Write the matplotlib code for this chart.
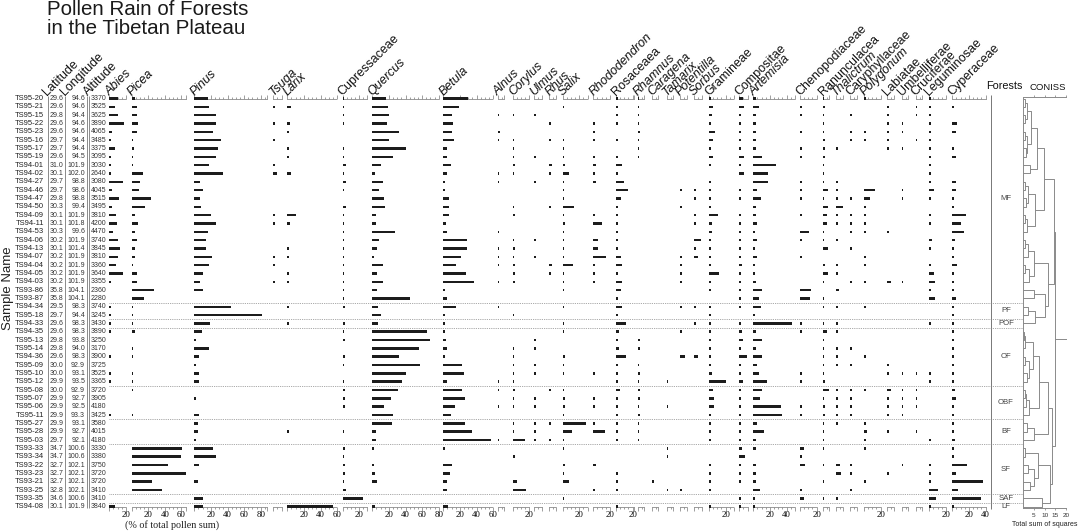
import matplotlib
matplotlib.use("Agg")
import matplotlib.pyplot as plt
from matplotlib.ticker import FixedLocator, FixedFormatter, MultipleLocator

W, H = 1079, 531
SANS = ['Liberation Sans', 'DejaVu Sans']
SERIF = ['Liberation Serif', 'DejaVu Serif']
plt.rcParams['font.family'] = SANS

# ---- samples ----
samples = ["TS95-20", "TS95-21", "TS95-15", "TS95-22", "TS95-23", "TS95-16", "TS95-17", "TS95-19", "TS94-01", "TS94-02",
           "TS94-27", "TS94-46", "TS94-47", "TS94-50", "TS94-09", "TS94-11", "TS94-53", "TS94-06", "TS94-13", "TS94-07",
           "TS94-04", "TS94-05", "TS94-03", "TS93-86", "TS93-87", "TS94-34", "TS95-18", "TS94-33", "TS94-35", "TS95-13",
           "TS95-14", "TS94-36", "TS95-09", "TS95-10", "TS95-12", "TS95-08", "TS95-07", "TS95-06", "TS95-11", "TS95-27",
           "TS95-28", "TS95-03", "TS93-33", "TS93-34", "TS93-22", "TS93-23", "TS93-21", "TS93-25", "TS93-35", "TS94-08"]
latitude = [29.6, 29.6, 29.8, 29.6, 29.6, 29.7, 29.7, 29.6, 31.0, 30.1,
            29.7, 29.7, 29.8, 30.3, 30.1, 30.1, 30.3, 30.2, 30.1, 30.2,
            30.2, 30.2, 30.2, 35.8, 35.8, 29.5, 29.7, 29.6, 29.6, 29.8,
            29.8, 29.6, 30.0, 30.0, 29.9, 30.0, 29.9, 29.9, 29.9, 29.9,
            29.9, 29.7, 34.7, 34.7, 32.7, 32.7, 32.7, 32.8, 34.6, 30.1]
longitude = [94.6, 94.6, 94.4, 94.6, 94.6, 94.4, 94.4, 94.5, 101.9, 102.0,
             98.8, 98.6, 98.8, 99.4, 101.9, 101.8, 99.6, 101.9, 101.4, 101.9,
             101.9, 101.9, 101.9, 104.1, 104.1, 98.3, 94.4, 98.3, 98.3, 93.8,
             94.0, 98.3, 92.9, 93.1, 93.5, 92.9, 92.7, 92.5, 93.3, 93.1,
             92.7, 92.1, 100.6, 100.6, 102.1, 102.1, 102.1, 102.1, 100.6, 101.9]
altitude = [3370, 3525, 3625, 3890, 4065, 3485, 3375, 3095, 3030, 2640,
            3080, 4045, 3515, 3495, 3810, 4200, 4470, 3740, 3845, 3810,
            3360, 3640, 3355, 2360, 2280, 3740, 3245, 3430, 3890, 3250,
            3170, 3900, 3725, 3525, 3365, 3720, 3905, 4180, 3425, 3580,
            4015, 4180, 3330, 3380, 3750, 3720, 3720, 3410, 3410, 3840]
forest_types = ['MF', 'PF', 'POF', 'OF', 'OBF', 'BF', 'SF', 'SAF', 'LF']
forest_counts = [25, 2, 1, 7, 4, 3, 6, 1, 1]

# ---- pollen percentages (one value per sample) ----
abies = [10, 7, 11, 18, 3, 2, 7, 2, 2, 2, 16, 3, 12, 3, 8, 9, 4, 10, 13, 11,
         8, 16, 2, 0, 0, 2, 2, 2, 2, 0, 0, 2, 0, 2, 2, 0, 0, 0, 2, 0,
         0, 0, 0, 0, 0, 0, 0, 0, 0, 7]
picea = [4, 6, 6, 7, 6, 2, 3, 2, 2, 14, 10, 9, 23, 16, 4, 7, 4, 6, 4, 4,
         2, 6, 6, 27, 15, 2, 2, 2, 4, 0, 2, 2, 0, 2, 2, 2, 0, 0, 2, 0,
         0, 0, 61, 59, 44, 65, 24, 36, 0, 0]
pinus = [17, 18, 26, 26, 23, 32, 29, 26, 18, 34, 7, 10, 7, 8, 20, 26, 17, 14, 14, 21,
         18, 11, 7, 10, 0, 44, 82, 19, 9, 2, 18, 6, 2, 6, 6, 0, 2, 0, 6, 5,
         4, 2, 22, 26, 6, 0, 4, 0, 10, 11]
tsuga = [0, 2, 0, 2, 0, 2, 0, 0, 2, 4, 0, 0, 0, 0, 2, 2, 0, 0, 0, 2,
         2, 0, 2] + [0] * 27
larix = [0, 4, 0, 3, 2, 0, 2, 2, 0, 4, 0, 0, 0, 0, 10, 3, 0, 0, 2, 2,
         0, 2, 2, 0, 0, 2, 0, 2, 0, 0, 0, 0, 0, 0, 0, 0, 0, 0, 0, 0,
         2, 0, 0, 0, 0, 0, 0, 0, 0, 55]
cupressaceae = [2, 2, 2, 2, 0, 0, 2, 2, 4, 2, 4, 2, 0, 4, 2, 2, 2, 2, 2, 2,
                2, 2, 2, 2, 2, 3, 0, 3, 2, 3, 0, 3, 2, 0, 2, 3, 3, 3, 0, 0,
                2, 0, 3, 2, 3, 3, 2, 4, 25, 0]
quercus = [16, 19, 20, 18, 32, 20, 40, 25, 10, 3, 13, 8, 14, 15, 4, 4, 27, 8, 6, 2,
           13, 6, 13, 6, 45, 7, 11, 7, 66, 69, 56, 32, 57, 41, 36, 31, 23, 14, 25, 24,
           4, 4, 2, 0, 2, 3, 6, 0, 0, 3]
betula = [30, 19, 11, 12, 10, 13, 5, 5, 9, 5, 2, 2, 7, 7, 7, 3, 4, 28, 28, 21,
          15, 27, 37, 2, 4, 15, 2, 2, 2, 3, 4, 2, 23, 25, 4, 23, 26, 14, 9, 26,
          34, 58, 2, 0, 10, 8, 4, 5, 0, 6]
alnus = [0, 0, 2, 0, 3, 2, 0, 0, 0, 2, 2, 0, 0, 0, 0, 0, 2, 0, 2, 2,
         2, 0, 2, 0, 0, 2, 0, 0, 0, 0, 0, 0, 0, 0, 2, 2, 0, 2, 0, 0,
         0, 2, 0, 0, 0, 0, 0, 0, 0, 0]
corylus = [0, 0, 2, 0, 0, 2, 2, 2, 3, 2, 0, 0, 0, 2, 3, 0, 0, 2, 3, 2,
           3, 3, 3, 0, 0, 0, 2, 0, 0, 0, 2, 2, 2, 2, 2, 3, 2, 2, 0, 2,
           2, 15, 0, 3, 0, 0, 5, 16, 0, 0]
ulmus = [0, 0, 2, 0, 0, 0, 0, 2, 0, 0, 2, 0, 0, 0, 0, 0, 0, 2, 0, 2,
         0, 0, 0, 0, 0, 0, 0, 0, 0, 2, 2, 0, 2, 2, 0, 0, 2, 2, 0, 2,
         2, 2, 0, 0, 0, 0, 0, 0, 0, 0]
rhus = [0, 0, 0, 2, 0, 2, 0, 0, 3, 2, 0, 0, 0, 2, 0, 0, 0, 0, 0, 0,
        3, 2, 0, 0, 0, 0, 0, 0, 0, 0, 0, 0, 0, 0, 0, 2, 0, 0, 0, 2,
        0, 2, 0, 0, 0, 0, 0, 0, 0, 0]
salix = [0, 2, 0, 0, 0, 2, 2, 2, 3, 7, 2, 2, 2, 14, 2, 3, 2, 2, 2, 2,
         12, 2, 2, 2, 0, 2, 0, 2, 2, 0, 0, 3, 2, 2, 0, 2, 3, 3, 2, 28,
         11, 2, 2, 0, 3, 2, 7, 0, 2, 0]
rhododendron = [0, 0, 0, 2, 2, 2, 0, 2, 3, 2, 3, 0, 0, 0, 2, 10, 0, 6, 6, 15,
                2, 2, 2, 0, 0, 0, 0, 0, 0, 0, 0, 0, 0, 2, 0, 0, 2, 2, 0, 2,
                14, 0, 0, 0, 3, 0, 0, 2, 0, 0]
rosaceaea = [3, 2, 3, 2, 0, 2, 0, 2, 7, 2, 10, 15, 6, 2, 2, 2, 2, 3, 3, 6,
             7, 3, 7, 6, 2, 7, 2, 12, 4, 2, 4, 12, 2, 2, 2, 5, 3, 3, 2, 2,
             2, 2, 0, 0, 0, 2, 3, 2, 0, 2]
rhamnus = [2, 2, 2, 2, 3, 2, 2, 2, 0, 0, 0, 0, 0, 0, 0, 0, 0, 0, 0, 0,
           0, 0, 0, 0, 0, 0, 0, 0, 0, 3, 3, 0, 2, 3, 2, 3, 3, 2, 3, 2,
           2, 2, 0, 0, 0, 0, 0, 0, 0, 0]
caragena = [0] * 46 + [2, 0, 0, 0]
tamarix = [0] * 34 + [2, 0, 0, 2, 0, 0, 0, 0, 2, 2, 0, 0, 0, 2, 0, 0]
potentilla = [0, 0, 0, 0, 0, 0, 0, 0, 0, 0, 0, 2, 0, 2, 0, 0, 0, 0, 0, 2,
              3, 2, 2, 0, 0, 2, 0, 0, 3, 0, 0, 6, 0, 0, 0, 0, 0, 0, 0, 0,
              0, 0, 0, 0, 0, 0, 0, 2, 0, 0]
sorbus = [0, 0, 0, 0, 0, 0, 0, 0, 0, 0, 0, 3, 2, 0, 2, 2, 0, 9, 2, 5,
          0, 0, 0, 0, 0, 2, 0, 3, 0, 0, 0, 5] + [0] * 18
gramineae = [3, 5, 4, 2, 7, 5, 2, 5, 2, 0, 3, 3, 2, 2, 11, 4, 4, 2, 2, 2,
             3, 12, 2, 2, 0, 2, 2, 2, 2, 3, 3, 2, 2, 4, 21, 5, 6, 6, 3, 2,
             3, 3, 0, 0, 2, 2, 2, 2, 0, 2]
compositae = [5, 6, 2, 2, 2, 2, 2, 6, 2, 6, 0, 2, 2, 0, 2, 2, 2, 2, 2, 2,
              3, 2, 2, 2, 2, 2, 0, 2, 3, 5, 2, 9, 2, 2, 5, 2, 2, 2, 2, 2,
              2, 2, 3, 7, 2, 2, 2, 0, 2, 2]
artemisia = [3, 7, 3, 3, 3, 3, 3, 10, 27, 18, 18, 5, 9, 3, 3, 5, 2, 4, 2, 5,
             2, 2, 3, 11, 7, 9, 2, 47, 3, 10, 3, 11, 5, 7, 17, 11, 8, 33, 34, 4,
             13, 3, 3, 0, 3, 3, 3, 8, 2, 2]
chenopodiaceae = [0, 2, 2, 0, 2, 0, 2, 2, 0, 0, 2, 2, 2, 0, 2, 0, 11, 2, 0, 2,
                  0, 0, 0, 13, 12, 0, 0, 2, 2, 0, 0, 0, 0, 2, 2, 0, 0, 2, 2, 0,
                  0, 0, 5, 2, 6, 0, 0, 2, 5, 0]
ranunculacea = [2, 3, 2, 2, 2, 3, 3, 3, 2, 2, 2, 6, 2, 6, 5, 5, 2, 2, 6, 0,
                3, 6, 2, 0, 2, 2, 0, 2, 5, 2, 2, 2, 2, 2, 3, 8, 2, 3, 3, 2,
                2, 2, 2, 0, 2, 0, 2, 0, 2, 0]
thalictrum = [0, 0, 0, 0, 0, 0, 2, 0, 0, 0, 2, 2, 2, 8, 2, 2, 0, 2, 0, 0,
              2, 2, 0, 4, 0, 2, 0, 2, 2, 0, 2, 2, 2, 0, 0, 2, 2, 2, 2, 2,
              0, 0, 0, 0, 5, 6, 0, 0, 3, 0]
caryphyllaceae = [0, 0, 2, 0, 2, 2, 0, 0, 0, 0, 0, 0, 2, 0, 2, 2, 2, 0, 2, 0,
                  0, 0, 2, 0, 0, 0, 0, 0, 0, 0, 2, 0, 2, 0, 0, 2, 2, 2, 2, 0,
                  0, 0, 0, 0, 2, 2, 0, 2, 0, 0]
polygonum = [2, 0, 0, 0, 2, 2, 0, 0, 0, 0, 0, 13, 7, 2, 2, 2, 2, 0, 0, 2,
             2, 0, 2, 0, 0, 2, 0, 0, 0, 0, 0, 2, 0, 0, 0, 2, 0, 0, 0, 3,
             4, 2, 2, 0, 0, 0, 2, 0, 0, 0]
labiatae = [0, 2, 2, 2, 2, 2, 2, 0, 0, 0, 0, 0, 0, 0, 0, 0, 2, 0, 0, 0,
            0, 0, 5, 0, 0, 0, 0, 0, 0, 0, 0, 0, 2, 2, 0, 5, 2, 2, 2, 0,
            2, 0, 0, 0, 0, 2, 0, 0, 0, 0]
umbelliferae = [0, 0, 0, 2, 2, 0, 2, 0, 0, 0, 0, 2, 2, 0, 0, 0, 0, 0, 0, 0,
                0, 0, 2, 0, 0, 0, 0, 0, 0, 0, 0, 0, 0, 2, 0, 2, 2, 2, 2, 0,
                0, 0, 0, 0, 2, 0, 0, 0, 0, 0]
cruciferae = [0, 2, 2, 0, 0, 2, 0, 0, 0, 0] + [0] * 23 + [2, 0, 2, 2, 2, 0, 0, 2, 0, 0, 0, 0, 0, 0, 0, 0, 0]
leguminosae = [2, 2, 2, 2, 2, 2, 2, 2, 2, 2, 2, 6, 2, 0, 2, 2, 0, 3, 2, 0,
               2, 6, 7, 2, 7, 0, 0, 2, 0, 0, 0, 0, 0, 2, 2, 0, 0, 0, 0, 0,
               0, 2, 0, 0, 2, 2, 2, 11, 8, 2]
cyperaceae = [0, 2, 0, 6, 5, 0, 2, 5, 0, 0, 5, 5, 2, 2, 16, 10, 14, 3, 2, 2,
              6, 2, 2, 2, 5, 2, 2, 2, 2, 2, 2, 2, 2, 2, 2, 3, 5, 2, 2, 2,
              2, 3, 2, 2, 18, 4, 37, 7, 34, 2]

taxon_names = ['Abies', 'Picea', 'Pinus', 'Tsuga', 'Larix', 'Cupressaceae', 'Quercus', 'Betula',
               'Alnus', 'Corylus', 'Ulmus', 'Rhus', 'Salix', 'Rhododendron', 'Rosaceaea', 'Rhamnus',
               'Caragena', 'Tamarix', 'Potentilla', 'Sorbus', 'Gramineae', 'Compositae', 'Artemisia',
               'Chenopodiaceae', 'Ranunculacea', 'Thalictrum', 'Caryphyllaceae', 'Polygonum',
               'Labiatae', 'Umbelliferae', 'Cruciferae', 'Leguminosae', 'Cyperaceae']
taxon_values = [abies, picea, pinus, tsuga, larix, cupressaceae, quercus, betula,
                alnus, corylus, ulmus, rhus, salix, rhododendron, rosaceaea, rhamnus,
                caragena, tamarix, potentilla, sorbus, gramineae, compositae, artemisia,
                chenopodiaceae, ranunculacea, thalictrum, caryphyllaceae, polygonum,
                labiatae, umbelliferae, cruciferae, leguminosae, cyperaceae]
families = {'Cupressaceae', 'Rosaceaea', 'Gramineae', 'Compositae', 'Chenopodiaceae', 'Ranunculacea',
            'Caryphyllaceae', 'Labiatae', 'Umbelliferae', 'Cruciferae', 'Leguminosae', 'Cyperaceae'}

# CONISS clustering: (left, right, total sum of squares); ints are sample rows
coniss_tree = (
    ((((((0, 1, 0.6), (2, 3, 1.0), 1.8), ((4, 5, 0.8), (6, 7, 1.2), 1.9), 3.6), (8, 9, 3.0), 6.3),
      ((((10, 11, 0.8), (12, 13, 1.2), 2.4), ((14, 15, 0.7), 16, 1.8), 5.5)), 9.8),
     ((((17, 18, 0.9), 19, 2.0), ((20, 21, 1.0), 22, 2.6), 5.2),
      ((23, 24, 4.8), ((25, 26, 2.3), 27, 5.5), 10.3), 11.8), 14.2),
    ((((((28, 29, 0.4), 30, 1.0), ((31, 32, 0.8), (33, 34, 1.6), 2.6), 4.6),
       (((35, 36, 0.7), 37, 1.4), 38, 2.6), 7.2),
      ((39, 40, 1.6), 41, 5.0), 11.8),
     (((42, 43, 0.6), ((44, 45, 2.0), (46, 47, 3.0), 5.0), 7.0), (48, 49, 8.6), 12.6), 13.6),
    14.8)

# ---- layout (pixels) ----
taxon_x0 = [109.3, 131.7, 194.3, 273.3, 287.3, 342.7, 372.3, 443.3, 497.7, 512.7, 534.3, 549.3,
            562.7, 593.3, 616.0, 637.7, 652.3, 666.7, 680.0, 694.0, 709.0, 739.3, 753.3, 800.0,
            822.7, 836.0, 850.0, 864.0, 887.3, 901.7, 915.7, 929.3, 952.3]
taxon_span = [20, 65, 88, 10, 60, 29, 80, 60, 7, 20, 9, 8, 30, 20, 22, 7, 7, 7, 8, 10, 30, 10, 50,
              20, 8, 8, 8, 20, 8, 8, 8, 20, 40]
PX_PER_PCT = 0.83
Y0, DY = 98.5, 8.33
N = len(samples)
GREY = '#8a8a8a'


def fx(x):
    return x / W


def fy(y):
    return 1 - y / H


def rows_axes(x0, x1, r0, r1):
    top, bot = Y0 + r0 * DY, Y0 + r1 * DY
    ax = fig.add_axes([fx(x0), fy(bot), (x1 - x0) / W, (bot - top) / H])
    ax.set_ylim(r1, r0)
    ax.patch.set_visible(False)
    return ax


fig = plt.figure(figsize=(W / 100, H / 100), dpi=100)
rows = list(range(N))

# layout axes: x in pixels, y in sample rows
lay = rows_axes(0, W, 0, N - 1)
lay.set_xlim(0, W)
lay.axis('off')

for i in rows:
    lay.text(44, i, samples[i], ha='right', va='center', fontsize=5.5, color='#222')
    lay.text(49.5, i, f"{latitude[i]:.1f}", ha='left', va='center', fontsize=5.0, color='#333')
    lay.text(85, i, f"{longitude[i]:.1f}", ha='right', va='center', fontsize=5.0, color='#333')
    lay.text(90.5, i, f"{altitude[i]}", ha='left', va='center', fontsize=5.0, color='#333')
lay.vlines([47.5, 64.5, 87.0, 88.5], -0.35, N - 0.8, color='#777', lw=0.6, clip_on=False)
lay.vlines([991], -0.4, N - 0.7, color='#777', lw=0.7, clip_on=False)

# forest group separators and labels
start = 0
for k, (name, cnt) in enumerate(zip(forest_types, forest_counts)):
    lay.text(1006, start + (cnt - 1) / 2, name, ha='center', va='center', fontsize=5.6, color='#444')
    start += cnt
    if k < len(forest_types) - 1:
        lay.hlines(start - 0.5, 109, 1023, color=GREY, lw=0.6, linestyles=(0, (1, 1.2)))

# taxon columns
for name, vals, x0, span in zip(taxon_names, taxon_values, taxon_x0, taxon_span):
    ax = rows_axes(x0, x0 + span * PX_PER_PCT, 0, N - 1)
    ax.set_xlim(0, span)
    ax.barh(rows, vals, height=0.3, color='#1c1c1c', clip_on=False, zorder=3)
    for s in ('left', 'right'):
        ax.spines[s].set_visible(False)
    for s in ('top', 'bottom'):
        ax.spines[s].set_color(GREY)
        ax.spines[s].set_linewidth(0.6)
        ax.spines[s].set_linestyle((0, (2, 1)))
    majors = [0] + list(range(20, span + 1, 20))
    labels = [''] + [str(v) for v in majors[1:]]
    if span % 20:
        majors.append(span)
        labels.append('')
    ax.xaxis.set_major_locator(FixedLocator(majors))
    ax.xaxis.set_major_formatter(FixedFormatter(labels))
    ax.xaxis.set_minor_locator(MultipleLocator(5))
    ax.set_yticks([])
    ax.tick_params(axis='x', which='both', top=True, bottom=True, labeltop=False, direction='out',
                   color='#777', width=0.5, labelsize=6.3, pad=0.6, labelfontfamily=SERIF[0])
    ax.tick_params(axis='x', which='major', length=2.6)
    ax.tick_params(axis='x', which='minor', length=1.3)
    fig.text(fx(x0), fy(95.5), name, rotation=45, rotation_mode='anchor', ha='left', va='baseline',
             fontsize=9, color='#111', style='normal' if name in families else 'italic')

for name, x in zip(['Latitude', 'Longitude', 'Altitude'], [47.0, 65.0, 88.0]):
    fig.text(fx(x), fy(95.5), name, rotation=45, rotation_mode='anchor', ha='left', va='baseline',
             fontsize=9, color='#111')

# CONISS dendrogram
dax = rows_axes(1023.3, 1066.0, -0.2, N - 0.8)
dax.set_xlim(0, 20)
for s in ('left', 'top', 'bottom'):
    dax.spines[s].set_color(GREY)
    dax.spines[s].set_linewidth(0.7)
dax.spines['right'].set_visible(False)
dax.set_yticks([])
dax.set_xticks([5, 10, 15, 20])
dax.tick_params(axis='x', top=True, bottom=True, labeltop=False, direction='out', length=1.5,
                width=0.5, color='#777', labelsize=4.6, pad=1.5, labelcolor='#333')


def draw_node(node):
    if isinstance(node, int):
        return float(node), 0.0
    left, right, h = node
    yl, hl = draw_node(left)
    yr, hr = draw_node(right)
    dax.plot([hl, h, h, hr], [yl, yl, yr, yr], color=GREY, lw=0.7, clip_on=False)
    return (yl + yr) / 2, h


root_y, root_h = draw_node(coniss_tree)
dax.plot([root_h, 19.8], [root_y, root_y], color=GREY, lw=0.7, clip_on=False)

# titles and labels
fig.text(fx(47), fy(0.0), "Pollen Rain of Forests\nin the Tibetan Plateau", ha='left', va='top',
         fontsize=14.8, linespacing=1.02, color='#1a1a1a')
fig.text(fx(8), fy(288), "Sample Name", rotation=90, ha='center', va='center', fontsize=9.5, color='#222')
fig.text(fx(172), fy(525.5), "(% of total pollen sum)", ha='center', va='center', fontsize=7.3,
         family=SERIF, color='#222')
fig.text(fx(1004.5), fy(86), "Forests", ha='center', va='center', fontsize=7.8, color='#111')
fig.text(fx(1047.5), fy(88), "CONISS", ha='center', va='center', fontsize=6.8, color='#111')
fig.text(fx(1045), fy(524), "Total sum of squares", ha='center', va='center', fontsize=5.0, color='#222')

fig.savefig("out.png", dpi=100)
